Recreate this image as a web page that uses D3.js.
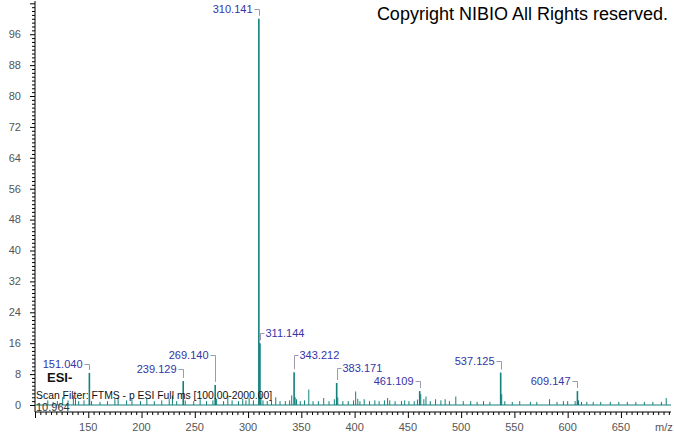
<!DOCTYPE html>
<html>
<head>
<meta charset="utf-8">
<script src="https://cdn.jsdelivr.net/npm/d3@7"></script>
<style>
  body { margin: 0; background: #fff; }
  svg { display: block; font-family: Arial, "Liberation Sans", sans-serif; }
</style>
</head>
<body>
<div id="chart"></div>
<script>
// labelled peaks (m/z, relative abundance %)
const peakMz = [151.040, 239.129, 269.140, 310.141, 311.144, 343.212, 383.171, 461.109, 537.125, 609.147];
const peakInt = [8.3, 6.2, 5.2, 100, 16.0, 8.5, 5.7, 3.6, 8.4, 3.6];

// small unlabelled peaks
const minorMz = [112, 117, 121, 126, 131, 136, 138, 141, 146, 153, 161, 168, 175, 178, 186, 191, 199, 205, 212, 219,
  226, 229, 233, 241, 249, 255, 261, 267, 270.5, 277, 281, 285, 291, 295, 298, 301, 305, 312.1, 314, 318, 322, 326,
  330, 335, 339, 341, 344.2, 345.5, 349, 353, 357, 361, 366, 371, 376, 381, 384.2, 389, 394, 399, 401, 403, 405, 409,
  414, 419, 423, 428, 431, 433, 438, 444, 447, 451, 456, 459, 462.1, 465, 467, 471, 476, 481, 485, 489, 495, 502, 509,
  515, 521, 527, 538.1, 541, 548, 555, 565, 571, 583, 590, 596, 600, 607, 610.2, 613, 618, 624, 631, 640, 648, 656,
  664, 672, 680, 688, 692.5];
const minorInt = [1.2, 0.8, 1.0, 2.0, 1.2, 2.5, 1.5, 1.0, 1.2, 1.0, 0.8, 1.0, 1.5, 1.8, 1.2, 1.6, 1.0, 1.8, 1.0, 1.2,
  1.5, 2.4, 1.0, 1.2, 1.0, 1.5, 1.0, 1.2, 1.6, 1.0, 2.5, 1.2, 1.0, 1.6, 1.2, 1.8, 1.2, 3.0, 1.2, 1.0, 1.2, 2.0,
  1.0, 1.0, 1.2, 2.5, 2.0, 1.5, 1.0, 1.2, 4.0, 1.0, 1.0, 1.8, 1.0, 1.5, 2.0, 1.0, 1.0, 1.2, 3.5, 1.6, 1.0, 1.5,
  1.0, 1.2, 1.0, 1.2, 1.8, 1.2, 1.0, 1.0, 1.2, 1.0, 1.0, 1.4, 2.8, 1.5, 2.2, 1.0, 1.5, 1.2, 1.5, 1.0, 2.2, 1.0, 1.0,
  0.8, 1.0, 0.8, 2.8, 1.0, 0.8, 1.0, 0.8, 0.8, 1.5, 0.8, 1.0, 1.0, 1.0, 1.2, 0.8, 0.8, 0.8, 0.8, 0.8, 0.8, 0.8,
  0.8, 0.8, 0.8, 0.8, 1.8];

const yTicks = [0, 8, 16, 24, 32, 40, 48, 56, 64, 72, 80, 88, 96];
const xTicks = [150, 200, 250, 300, 350, 400, 450, 500, 550, 600, 650];

// where each label sits relative to its peak top
const labelLayout = {
  "151.040": { side: "left", lift: 9 },
  "239.129": { side: "left", lift: 12 },
  "269.140": { side: "left", lift: 30 },
  "310.141": { side: "left", lift: 10 },
  "311.144": { side: "right", lift: 10 },
  "343.212": { side: "right", lift: 17 },
  "383.171": { side: "right", lift: 15 },
  "461.109": { side: "left", lift: 10 },
  "537.125": { side: "left", lift: 12 },
  "609.147": { side: "left", lift: 10 }
};

const W = 674, H = 434;
const svg = d3.select("#chart").append("svg").attr("width", W).attr("height", H);

const x = d3.scaleLinear().domain([100, 697]).range([35, 671]);
const y = d3.scaleLinear().domain([0, 104.6]).range([405, 1]);
const axisY = 412;
const teal = "#12807c";

// y axis
const yAxis = svg.append("g").attr("transform", "translate(35,0)");
yAxis.call(d3.axisLeft(y).tickValues(d3.range(0, 105, 1)).tickSize(3).tickFormat(""));
yAxis.selectAll(".tick line").filter(d => d % 8 === 0).attr("x2", -5);
yAxis.select(".domain").remove();
yAxis.append("line").attr("x1", 0).attr("x2", 0).attr("y1", 1).attr("y2", axisY).attr("stroke", "#000");
yAxis.selectAll(".tick line").attr("stroke", "#000");
svg.append("g").selectAll("text").data(yTicks).join("text")
  .attr("x", 21).attr("y", d => y(d)).attr("dy", "0.35em")
  .attr("text-anchor", "end").attr("font-size", 11).attr("fill", "#555")
  .text(d => d);

// x axis
const xAxis = svg.append("g").attr("transform", `translate(0,${axisY})`);
xAxis.call(d3.axisBottom(x).tickValues(d3.range(100, 700, 5)).tickSize(3).tickFormat(""));
xAxis.selectAll(".tick line").filter(d => d % 50 === 0).attr("y2", 6);
xAxis.select(".domain").remove();
xAxis.append("line").attr("x1", 35).attr("x2", 671).attr("stroke", "#000");
xAxis.selectAll(".tick line").attr("stroke", "#000");
svg.append("g").selectAll("text").data(xTicks).join("text")
  .attr("x", d => x(d)).attr("y", 427).attr("dy", "0.35em")
  .attr("text-anchor", "middle").attr("font-size", 11).attr("fill", "#555")
  .text(d => d);
svg.append("text").attr("x", 655).attr("y", 427).attr("dy", "0.35em")
  .attr("font-size", 11).attr("fill", "#555").text("m/z");

// spectrum
const minor = minorMz.map((m, i) => ({ mz: m, v: minorInt[i] }));
const peaks = peakMz.map((m, i) => ({ mz: m, v: peakInt[i], label: m.toFixed(3) }));

svg.append("line").attr("x1", 35).attr("x2", 671).attr("y1", y(0)).attr("y2", y(0))
  .attr("stroke", teal).attr("stroke-width", 1.2);

svg.append("g").selectAll("line").data(minor).join("line")
  .attr("x1", d => x(d.mz)).attr("x2", d => x(d.mz))
  .attr("y1", y(0)).attr("y2", d => y(d.v))
  .attr("stroke", teal).attr("stroke-width", 1);

svg.append("g").selectAll("line").data(peaks).join("line")
  .attr("x1", d => x(d.mz)).attr("x2", d => x(d.mz))
  .attr("y1", y(0)).attr("y2", d => y(d.v))
  .attr("stroke", teal).attr("stroke-width", 1.6);

// peak labels with brackets
const lab = svg.append("g");
peaks.forEach(d => {
  const lay = labelLayout[d.label];
  const xp = Math.round(x(d.mz)) + 0.5, top = y(d.v);
  const ly = Math.round(top - lay.lift) + 0.5;
  if (lay.side === "left") {
    lab.append("path").attr("d", `M${xp - 5},${ly}H${xp}V${top - 3}`)
      .attr("fill", "none").attr("stroke", "#9a9ab0");
    lab.append("text").attr("x", xp - 7).attr("y", ly).attr("dy", "0.35em")
      .attr("text-anchor", "end").attr("font-size", 11).attr("fill", "#3434a8").text(d.label);
  } else {
    lab.append("path").attr("d", `M${xp},${top - 3}V${ly}H${xp + 4}`)
      .attr("fill", "none").attr("stroke", "#9a9ab0");
    lab.append("text").attr("x", xp + 5).attr("y", ly).attr("dy", "0.35em")
      .attr("font-size", 11).attr("fill", "#3434a8").text(d.label);
  }
});

// annotations
svg.append("text").attr("x", 668).attr("y", 20).attr("text-anchor", "end")
  .attr("font-size", 18).attr("fill", "#000").text("Copyright NIBIO All Rights reserved.");
svg.append("text").attr("x", 47).attr("y", 382)
  .attr("font-size", 13).attr("font-weight", "bold").attr("fill", "#111").text("ESI-");
svg.append("text").attr("x", 36).attr("y", 399)
  .attr("font-size", 10.4).attr("fill", "#111").text("Scan Filter: FTMS - p ESI Full ms [100.00-2000.00]");
svg.append("text").attr("x", 36).attr("y", 411)
  .attr("font-size", 11).attr("fill", "#333").text("10.964");
</script>
</body>
</html>
